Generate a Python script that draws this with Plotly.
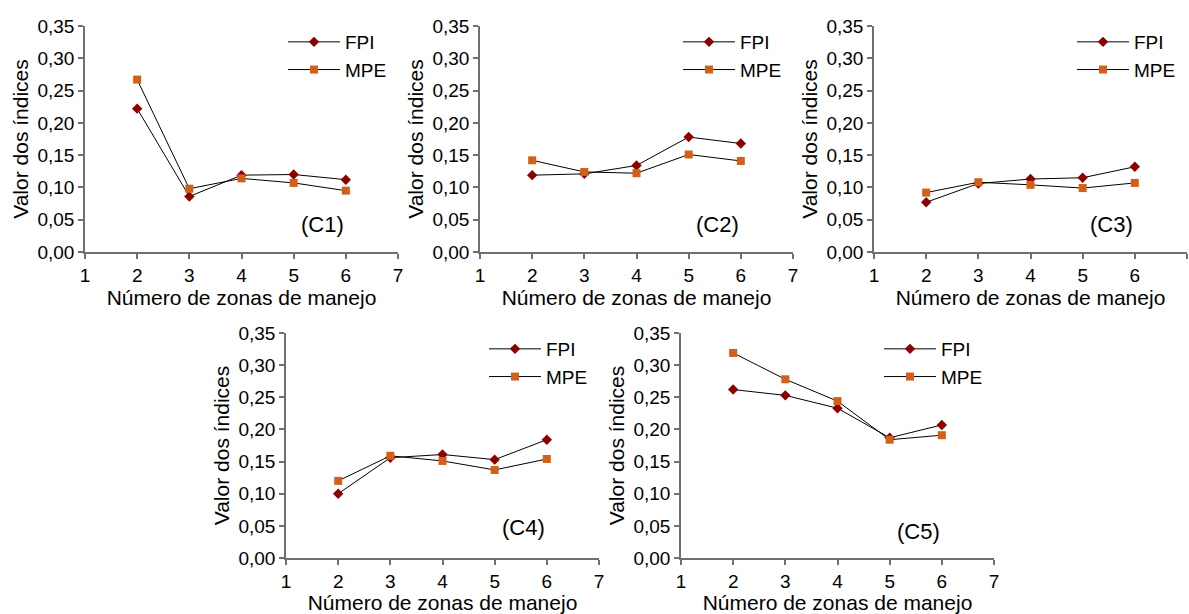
import plotly.graph_objects as go

# ---- data ----
x_zonas = [2, 3, 4, 5, 6]
fpi_c1 = [0.222, 0.086, 0.119, 0.120, 0.112]
mpe_c1 = [0.267, 0.098, 0.114, 0.107, 0.095]
fpi_c2 = [0.119, 0.121, 0.134, 0.178, 0.168]
mpe_c2 = [0.142, 0.124, 0.122, 0.151, 0.141]
fpi_c3 = [0.077, 0.106, 0.113, 0.115, 0.132]
mpe_c3 = [0.092, 0.108, 0.104, 0.099, 0.107]
fpi_c4 = [0.100, 0.156, 0.161, 0.153, 0.184]
mpe_c4 = [0.120, 0.159, 0.151, 0.137, 0.154]
fpi_c5 = [0.262, 0.253, 0.233, 0.187, 0.207]
mpe_c5 = [0.319, 0.278, 0.244, 0.184, 0.191]
panel_labels = ["(C1)", "(C2)", "(C3)", "(C4)", "(C5)"]
x_tick_vals = [1, 2, 3, 4, 5, 6, 7]
y_tick_vals = [0.00, 0.05, 0.10, 0.15, 0.20, 0.25, 0.30, 0.35]
series_names = ["FPI", "MPE"]
x_title = "Número de zonas de manejo"
y_title = "Valor dos índices"

fpi_all = [fpi_c1, fpi_c2, fpi_c3, fpi_c4, fpi_c5]
mpe_all = [mpe_c1, mpe_c2, mpe_c3, mpe_c4, mpe_c5]

# ---- layout geometry (px) ----
W, H = 1189, 614
# (left, right, top, bottom) of each plot area in pixels
boxes = [
    (85, 398, 26, 252),
    (480, 793, 26, 252),
    (874, 1187, 26, 252),
    (286, 599, 333, 558),
    (681, 994, 333, 558),
]
label_y = [0.042, 0.042, 0.042, 0.048, 0.042]

FONT = "Liberation Sans, Arial, sans-serif"
AXIS_COL = "#707070"
FPI_COL = "#8b0000"
MPE_COL = "#d2601a"

fig = go.Figure()
layout = dict(
    width=W, height=H,
    margin=dict(l=0, r=0, t=0, b=0),
    paper_bgcolor="white", plot_bgcolor="white",
    separators=",.",
    font=dict(family=FONT, color="black", size=19),
    annotations=[],
)

for i, (l, r, t, b) in enumerate(boxes):
    n = i + 1
    xa = "x" if n == 1 else f"x{n}"
    ya = "y" if n == 1 else f"y{n}"
    lg = "legend" if n == 1 else f"legend{n}"
    fig.add_trace(go.Scatter(
        x=x_zonas, y=fpi_all[i], name=series_names[0], mode="lines+markers",
        xaxis=xa, yaxis=ya, legend=lg,
        line=dict(color="black", width=1),
        marker=dict(symbol="diamond", size=8, color=FPI_COL),
    ))
    fig.add_trace(go.Scatter(
        x=x_zonas, y=mpe_all[i], name=series_names[1], mode="lines+markers",
        xaxis=xa, yaxis=ya, legend=lg,
        line=dict(color="black", width=1),
        marker=dict(symbol="square", size=8, color=MPE_COL),
    ))
    xk = "xaxis" if n == 1 else f"xaxis{n}"
    yk = "yaxis" if n == 1 else f"yaxis{n}"
    layout[xk] = dict(
        domain=[l / W, r / W], anchor=ya, range=[1, 7],
        tickmode="array", tickvals=x_tick_vals,
        showline=True, linecolor=AXIS_COL, linewidth=1.5,
        ticks="outside", ticklen=5, tickcolor=AXIS_COL, tickwidth=1.5,
        showgrid=False, zeroline=False, automargin=False,
        tickfont=dict(size=19),
        title=dict(text=x_title, font=dict(size=21), standoff=3),
    )
    layout[yk] = dict(
        domain=[1 - b / H, 1 - t / H], anchor=xa, range=[0, 0.35],
        tickmode="array", tickvals=y_tick_vals, tickformat=".2f",
        showline=True, linecolor=AXIS_COL, linewidth=1.5,
        ticks="outside", ticklen=5, tickcolor=AXIS_COL, tickwidth=1.5,
        showgrid=False, zeroline=False, automargin=False,
        tickfont=dict(size=19),
        title=dict(text=y_title, font=dict(size=21), standoff=3),
    )
    layout[lg] = dict(
        x=(l + 198) / W, y=1 - (t - 3) / H, xanchor="left", yanchor="top",
        bgcolor="rgba(0,0,0,0)", borderwidth=0,
        font=dict(size=19, family=FONT), itemwidth=52, tracegroupgap=0,
    )
    layout["annotations"].append(dict(
        x=5.55, y=label_y[i], xref=xa, yref=ya, text=panel_labels[i],
        showarrow=False, font=dict(size=22, family=FONT),
        xanchor="center", yanchor="middle",
    ))

fig.update_layout(**layout)
fig.write_html("out.html")
